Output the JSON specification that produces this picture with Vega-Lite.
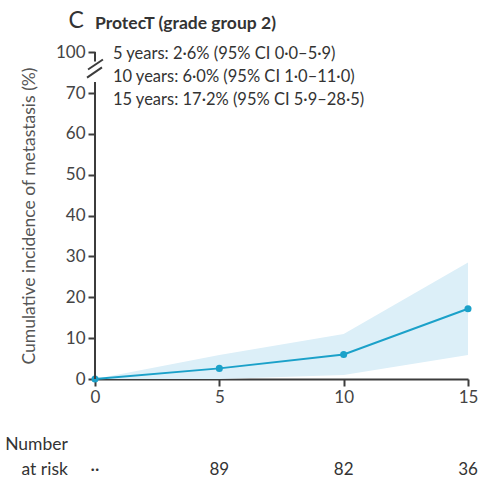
{
  "$schema": "https://vega.github.io/schema/vega-lite/v6.json",
  "width": 373,
  "height": 327,
  "autosize": {"type": "none"},
  "padding": {"left": 95, "top": 52, "right": 32, "bottom": 103},
  "background": "white",
  "config": {
    "view": {"stroke": null},
    "font": "Lato",
    "axis": {"grid": false, "labelFont": "Lato", "titleFont": "Lato"}
  },
  "datasets": {
    "cuminc": [
      {"year": 0, "inc": 0.0, "lo": 0.0, "hi": 0.0},
      {"year": 5, "inc": 2.6, "lo": 0.0, "hi": 5.9},
      {"year": 10, "inc": 6.0, "lo": 1.0, "hi": 11.0},
      {"year": 15, "inc": 17.2, "lo": 5.9, "hi": 28.5}
    ],
    "risk": [
      {"year": 0, "n": "··"},
      {"year": 5, "n": "89"},
      {"year": 10, "n": "82"},
      {"year": 15, "n": "36"}
    ],
    "one": [{}]
  },
  "layer": [
    {
      "data": {"name": "cuminc"},
      "mark": {"type": "area", "color": "#dceff8", "opacity": 1},
      "encoding": {
        "x": {
          "field": "year",
          "type": "quantitative",
          "scale": {"domain": [0, 15], "nice": false, "zero": false},
          "axis": {
            "values": [0, 5, 10, 15],
            "title": null,
            "domainColor": "#3c3c3c",
            "domainWidth": 2,
            "tickColor": "#3c3c3c",
            "tickWidth": 2,
            "tickSize": 7,
            "labelFontSize": 17,
            "labelColor": "#444444",
            "labelPadding": 3,
            "labelFlush": false
          }
        },
        "y": {
          "field": "lo",
          "type": "quantitative",
          "scale": {"domain": [0, 70, 100], "range": [327, 41, 0], "nice": false, "zero": false},
          "axis": {
            "values": [0, 10, 20, 30, 40, 50, 60, 70, 100],
            "domain": false,
            "title": "Cumulative incidence of metastasis (%)",
            "tickColor": "#3c3c3c",
            "tickWidth": 2,
            "tickSize": 7,
            "labelFontSize": 17,
            "labelColor": "#444444",
            "labelPadding": 3,
            "titleFontSize": 17.5,
            "titleFontWeight": "normal",
            "titleColor": "#555555",
            "titlePadding": 17
          }
        },
        "y2": {"field": "hi"}
      }
    },
    {
      "data": {"name": "cuminc"},
      "mark": {"type": "line", "color": "#1ba1c9", "strokeWidth": 2},
      "encoding": {
        "x": {"field": "year", "type": "quantitative"},
        "y": {"field": "inc", "type": "quantitative"}
      }
    },
    {
      "data": {"name": "cuminc"},
      "mark": {"type": "point", "filled": true, "color": "#1ba1c9", "opacity": 1, "size": 50},
      "encoding": {
        "x": {"field": "year", "type": "quantitative"},
        "y": {"field": "inc", "type": "quantitative"}
      }
    },
    {
      "data": {"name": "one"},
      "mark": {"type": "rule", "color": "#3c3c3c", "strokeWidth": 2},
      "encoding": {"x": {"datum": 0}, "y": {"datum": 0}, "y2": {"datum": 78}}
    },
    {
      "data": {"name": "one"},
      "mark": {"type": "rule", "color": "#3c3c3c", "strokeWidth": 2},
      "encoding": {"x": {"datum": 0}, "y": {"datum": 93}, "y2": {"datum": 100}}
    },
    {
      "data": {"name": "one"},
      "mark": {"type": "rule", "color": "#3c3c3c", "strokeWidth": 2},
      "encoding": {"x": {"datum": -0.28}, "x2": {"datum": 0.32}, "y": {"datum": 87.2}, "y2": {"datum": 94.5}}
    },
    {
      "data": {"name": "one"},
      "mark": {"type": "rule", "color": "#3c3c3c", "strokeWidth": 2},
      "encoding": {"x": {"datum": -0.32}, "x2": {"datum": 0.28}, "y": {"datum": 81.3}, "y2": {"datum": 88.7}}
    },
    {
      "data": {"name": "one"},
      "mark": {
        "type": "text",
        "text": ["5 years: 2·6% (95% CI 0·0–5·9)", "10 years: 6·0% (95% CI 1·0–11·0)", "15 years: 17·2% (95% CI 5·9–28·5)"],
        "align": "left",
        "baseline": "alphabetic",
        "fontSize": 16.5,
        "lineHeight": 23,
        "color": "#333333"
      },
      "encoding": {"x": {"datum": 0.72}, "y": {"datum": 95.2}}
    },
    {
      "data": {"name": "one"},
      "mark": {"type": "text", "text": "C", "align": "center", "baseline": "alphabetic", "fontSize": 23, "color": "#333333"},
      "encoding": {"x": {"datum": -0.76}, "y": {"datum": 117.9}}
    },
    {
      "data": {"name": "one"},
      "mark": {"type": "text", "text": "ProtecT (grade group 2)", "align": "left", "baseline": "alphabetic", "fontSize": 17.5, "fontWeight": "bold", "color": "#333333"},
      "encoding": {"x": {"datum": 0}, "y": {"datum": 116.5}}
    },
    {
      "data": {"name": "one"},
      "mark": {
        "type": "text",
        "text": ["Number", "at risk"],
        "align": "right",
        "baseline": "alphabetic",
        "fontSize": 17.5,
        "lineHeight": 25,
        "color": "#333333"
      },
      "encoding": {"x": {"datum": -1.09}, "y": {"datum": -17.4}}
    },
    {
      "data": {"name": "risk"},
      "mark": {"type": "text", "align": "center", "baseline": "alphabetic", "fontSize": 17, "color": "#333333"},
      "encoding": {
        "x": {"field": "year", "type": "quantitative"},
        "y": {"datum": -23.5},
        "text": {"field": "n", "type": "nominal"}
      }
    }
  ]
}
